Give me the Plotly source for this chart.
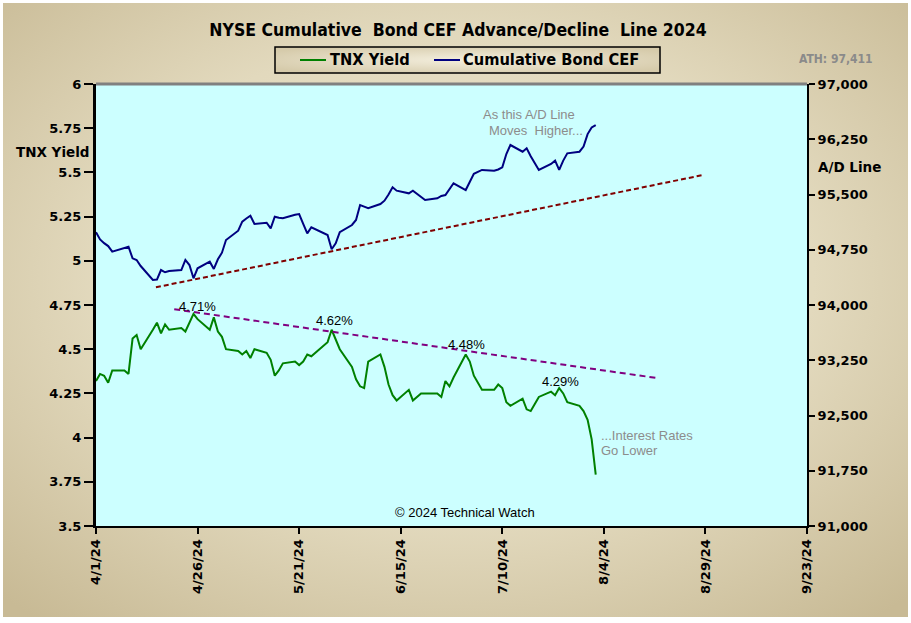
import base64
import plotly.graph_objects as go

# ---------------- data ----------------
dates = [
    "2024-04-01", "2024-04-02", "2024-04-03", "2024-04-04", "2024-04-05",
    "2024-04-08", "2024-04-09", "2024-04-10", "2024-04-11", "2024-04-12",
    "2024-04-15", "2024-04-16", "2024-04-17", "2024-04-18", "2024-04-19",
    "2024-04-22", "2024-04-23", "2024-04-24", "2024-04-25", "2024-04-26",
    "2024-04-29", "2024-04-30", "2024-05-01", "2024-05-02", "2024-05-03",
    "2024-05-06", "2024-05-07", "2024-05-08", "2024-05-09", "2024-05-10",
    "2024-05-13", "2024-05-14", "2024-05-15", "2024-05-16", "2024-05-17",
    "2024-05-20", "2024-05-21", "2024-05-22", "2024-05-23", "2024-05-24",
    "2024-05-28", "2024-05-29", "2024-05-30", "2024-05-31",
    "2024-06-03", "2024-06-04", "2024-06-05", "2024-06-06", "2024-06-07",
    "2024-06-10", "2024-06-11", "2024-06-12", "2024-06-13", "2024-06-14",
    "2024-06-17", "2024-06-18", "2024-06-20", "2024-06-21",
    "2024-06-24", "2024-06-25", "2024-06-26", "2024-06-27", "2024-06-28",
    "2024-07-01", "2024-07-02", "2024-07-03", "2024-07-05",
    "2024-07-08", "2024-07-09", "2024-07-10", "2024-07-11", "2024-07-12",
    "2024-07-15", "2024-07-16", "2024-07-17", "2024-07-18", "2024-07-19",
    "2024-07-22", "2024-07-23", "2024-07-24", "2024-07-25", "2024-07-26",
    "2024-07-29", "2024-07-30", "2024-07-31", "2024-08-01", "2024-08-02",
]

tnx_yield = [
    4.32, 4.36, 4.35, 4.31, 4.38,
    4.38, 4.36, 4.56, 4.58, 4.50,
    4.61, 4.65, 4.59, 4.64, 4.61,
    4.62, 4.60, 4.65, 4.70, 4.67,
    4.61, 4.68, 4.60, 4.57, 4.50,
    4.49, 4.47, 4.49, 4.45, 4.50,
    4.48, 4.44, 4.35, 4.38, 4.42,
    4.43, 4.41, 4.43, 4.47, 4.46,
    4.54, 4.61, 4.56, 4.50,
    4.40, 4.33, 4.29, 4.28, 4.43,
    4.47, 4.40, 4.30, 4.24, 4.21,
    4.27, 4.21, 4.25, 4.25,
    4.25, 4.23, 4.32, 4.29, 4.34,
    4.47, 4.43, 4.35, 4.27,
    4.27, 4.30, 4.28, 4.20, 4.18,
    4.22, 4.16, 4.15, 4.19, 4.23,
    4.26, 4.24, 4.28, 4.25, 4.20,
    4.18, 4.15, 4.10, 3.99, 3.79,
]

cum_bond_cef = [
    94987, 94890, 94840, 94800, 94724,
    94775, 94791, 94634, 94611, 94529,
    94339, 94345, 94475, 94444, 94460,
    94475, 94611, 94543, 94362, 94498,
    94588, 94489, 94620, 94710, 94882,
    95009, 95131, 95175, 95212, 95100,
    95117, 95041, 95199, 95185, 95177,
    95225, 95235, 95100, 94973, 95055,
    94950, 94756, 94837, 94990,
    95086, 95154, 95357, 95335, 95313,
    95371, 95416, 95500, 95597, 95552,
    95516, 95552, 95470, 95425,
    95448, 95480, 95493, 95570, 95652,
    95561, 95680, 95780, 95833,
    95823, 95840, 95869, 96050, 96172,
    96081, 96127, 96020, 95923, 95833,
    95914, 95960, 95833, 95960, 96059,
    96081, 96150, 96320, 96410, 96443,
]

# trend lines
ad_trend_dates = ["2024-04-15 18:00", "2024-08-28 10:00"]
ad_trend_values = [94240, 95765]
tnx_trend_dates = ["2024-04-20 06:00", "2024-08-17 02:00"]
tnx_trend_values = [4.726, 4.337]

# peak labels
peak_dates = ["2024-04-26 02:00", "2024-05-29 14:00", "2024-07-01 07:00", "2024-07-24 10:00"]
peak_levels = [4.739, 4.665, 4.524, 4.320]
peak_texts = ["4.71%", "4.62%", "4.48%", "4.29%"]

x_tick_vals = ["2024-04-01", "2024-04-26", "2024-05-21", "2024-06-15",
               "2024-07-10", "2024-08-04", "2024-08-29", "2024-09-23"]
x_tick_text = ["4/1/24", "4/26/24", "5/21/24", "6/15/24",
               "7/10/24", "8/4/24", "8/29/24", "9/23/24"]
left_tick_vals = [3.5, 3.75, 4, 4.25, 4.5, 4.75, 5, 5.25, 5.5, 5.75, 6]
left_tick_text = ["3.5", "3.75", "4", "4.25", "4.5", "4.75", "5", "5.25", "5.5", "5.75", "6"]

series_names = ["TNX Yield", "Cumulative Bond CEF"]
series_colors = ["#008000", "#000080"]

# ---------------- geometry helpers ----------------
W, H = 911, 623
L, R, T, B = 96, 104, 84, 97
PW, PH = W - L - R, H - T - B


def px(xp):
    return (xp - L) / PW


def py(yp):
    return (H - B - yp) / PH


NARROW = "Liberation Sans Narrow, Arial Narrow, DejaVu Sans Condensed, Roboto Condensed, sans-serif"
VERD = "Verdana, DejaVu Sans, sans-serif"
ARIAL = "Arial, Liberation Sans, sans-serif"

fig = go.Figure()

fig.add_trace(go.Scatter(
    x=dates, y=tnx_yield, name=series_names[0], mode="lines", showlegend=False,
    line=dict(color=series_colors[0], width=2), yaxis="y"))
fig.add_trace(go.Scatter(
    x=dates, y=cum_bond_cef, name=series_names[1], mode="lines", showlegend=False,
    line=dict(color=series_colors[1], width=2), yaxis="y2"))
fig.add_trace(go.Scatter(
    x=ad_trend_dates, y=ad_trend_values, mode="lines", showlegend=False,
    line=dict(color="#800000", width=2, dash="5px,3px"), yaxis="y2"))
fig.add_trace(go.Scatter(
    x=tnx_trend_dates, y=tnx_trend_values, mode="lines", showlegend=False,
    line=dict(color="#800080", width=2, dash="6px,4px"), yaxis="y"))

# background gradient
svg = ("<svg xmlns='http://www.w3.org/2000/svg' width='905' height='614'>"
       "<defs><radialGradient id='g' cx='50%' cy='45%' r='72%'>"
       "<stop offset='0' stop-color='#ece5cf'/>"
       "<stop offset='0.55' stop-color='#e2d9bd'/>"
       "<stop offset='1' stop-color='#c8ba95'/>"
       "</radialGradient></defs>"
       "<rect width='905' height='614' fill='url(#g)'/></svg>")
src = "data:image/svg+xml;base64," + base64.b64encode(svg.encode()).decode()
leg_svg = ("<svg xmlns='http://www.w3.org/2000/svg' width='385' height='26'>"
           "<defs><radialGradient id='g' cx='50%' cy='50%' r='60%'>"
           "<stop offset='0' stop-color='#f3eedd'/>"
           "<stop offset='1' stop-color='#d6cbab'/>"
           "</radialGradient></defs>"
           "<rect width='385' height='26' fill='url(#g)'/></svg>")
leg_src = "data:image/svg+xml;base64," + base64.b64encode(leg_svg.encode()).decode()


def ann(x, y, text, font, xanchor="center", yanchor="middle"):
    return dict(x=px(x), y=py(y), xref="paper", yref="paper", text=text, showarrow=False,
                xanchor=xanchor, yanchor=yanchor, font=font)


annotations = []
for d, lv, t in zip(peak_dates, peak_levels, peak_texts):
    annotations.append(dict(x=d, y=lv, xref="x", yref="y", text=t, showarrow=False,
                            xanchor="center", yanchor="middle",
                            font=dict(family=ARIAL, size=13, color="#000000")))

gray = dict(family=ARIAL, size=13, color="#8c8c8c")
annotations += [
    ann(52, 152, "TNX Yield", dict(family=VERD, size=13.5, color="#000000", weight="bold")),
    ann(849, 167, "A/D Line", dict(family=VERD, size=13.5, color="#000000", weight="bold")),
    ann(836, 59, "ATH: 97,411", dict(family=NARROW, size=12, color="#8a8a8a", weight="bold")),
    ann(528.5, 115, "As this A/D Line", gray),
    ann(535.5, 131, "Moves  Higher...", gray),
    ann(599, 435, "...Interest Rates", gray, xanchor="left"),
    ann(599, 450, "Go Lower", gray, xanchor="left"),
    ann(464.5, 512, "© 2024 Technical Watch", dict(family=ARIAL, size=13, color="#000000")),
    # legend labels
    ann(328, 60, series_names[0], dict(family=NARROW, size=16.3, color="#000000", weight="bold"),
        xanchor="left"),
    ann(461, 60, series_names[1], dict(family=NARROW, size=16.3, color="#000000", weight="bold"),
        xanchor="left"),
]

shapes = [
    dict(type="rect", xref="paper", yref="paper", x0=0, x1=1, y0=0, y1=1,
         fillcolor="#ccffff", line=dict(width=0), layer="below"),
    dict(type="line", xref="paper", yref="paper", x0=0, x1=1, y0=1, y1=1,
         line=dict(color="#808080", width=3), layer="above"),
    # legend frame and samples
    dict(type="rect", xref="paper", yref="paper", x0=px(275), x1=px(660), y0=py(73), y1=py(47),
         line=dict(color="#000000", width=1.5), layer="above"),
    dict(type="line", xref="paper", yref="paper", x0=px(300), x1=px(326), y0=py(60), y1=py(60),
         line=dict(color=series_colors[0], width=2), layer="above"),
    dict(type="line", xref="paper", yref="paper", x0=px(434), x1=px(460), y0=py(60), y1=py(60),
         line=dict(color=series_colors[1], width=2), layer="above"),
]

fig.update_layout(
    width=W, height=H,
    margin=dict(l=L, r=R, t=T, b=B, pad=0),
    paper_bgcolor="#ffffff",
    plot_bgcolor="#ccffff",
    title=dict(text="NYSE Cumulative  Bond CEF Advance/Decline  Line 2024",
               x=458 / W, xanchor="center", y=1 - 30 / H, yanchor="middle",
               font=dict(family=NARROW, size=17.5, color="#000000", weight="bold")),
    showlegend=False,
    xaxis=dict(type="date", range=["2024-04-01", "2024-09-23"],
               tickmode="array", tickvals=x_tick_vals, ticktext=x_tick_text,
               tickangle=-90, ticks="outside", ticklen=6, tickwidth=2, tickcolor="#000000",
               showline=True, linecolor="#000000", linewidth=2, showgrid=False, zeroline=False,
               tickfont=dict(family=VERD, size=13, color="#000000", weight="bold")),
    yaxis=dict(range=[3.5, 6], tickmode="array", tickvals=left_tick_vals, ticktext=left_tick_text,
               ticks="outside", ticklen=9, tickwidth=2, tickcolor="#000000",
               showline=True, linecolor="#000000", linewidth=3, showgrid=False, zeroline=False,
               tickfont=dict(family=VERD, size=13, color="#000000", weight="bold")),
    yaxis2=dict(range=[91000, 97000], dtick=750, tick0=91000, tickformat=",d",
                overlaying="y", side="right",
                ticks="outside", ticklen=6, tickwidth=2, tickcolor="#000000",
                showline=True, linecolor="#000000", linewidth=2, showgrid=False, zeroline=False,
                tickfont=dict(family=VERD, size=13, color="#000000", weight="bold")),
    images=[
        dict(source=src, xref="paper", yref="paper", x=px(3), y=py(3),
             sizex=905 / PW, sizey=614 / PH, sizing="stretch", layer="below",
             xanchor="left", yanchor="top"),
        dict(source=leg_src, xref="paper", yref="paper", x=px(275), y=py(47),
             sizex=385 / PW, sizey=26 / PH, sizing="stretch", layer="above",
             xanchor="left", yanchor="top"),
    ],
    shapes=shapes,
    annotations=annotations,
)

fig.write_html("out.html", config={"displayModeBar": False},
               post_script="document.body.style.margin='0';document.body.style.padding='0';")
